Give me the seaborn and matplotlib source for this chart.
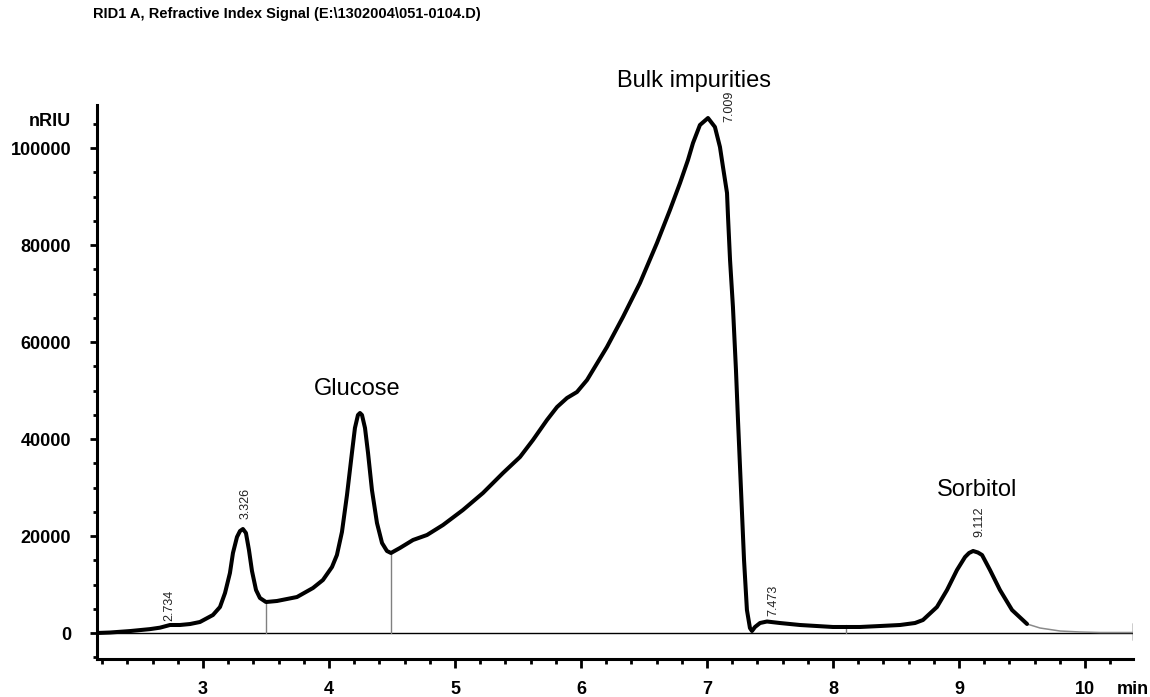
import numpy as np
import pandas as pd
import matplotlib
matplotlib.use("Agg")
import matplotlib.pyplot as plt
from matplotlib.ticker import MultipleLocator, FuncFormatter
import seaborn as sns

# ---------------- data ----------------
time_min = [2.159, 2.262, 2.421, 2.579, 2.659, 2.738, 2.817, 2.897, 2.976, 3.079,
            3.135, 3.175, 3.214, 3.238, 3.270, 3.294, 3.317, 3.341, 3.365, 3.389,
            3.421, 3.452, 3.500, 3.587, 3.746, 3.873, 3.952, 4.024, 4.063, 4.103,
            4.143, 4.183, 4.206, 4.230, 4.246, 4.262, 4.286, 4.310, 4.341, 4.381,
            4.421, 4.460, 4.492, 4.563, 4.667, 4.778, 4.905, 5.063, 5.222, 5.381,
            5.516, 5.619, 5.730, 5.810, 5.889, 5.968, 6.048, 6.206, 6.333, 6.468,
            6.603, 6.706, 6.786, 6.849, 6.889, 6.944, 7.008, 7.063,
            7.103, 7.127, 7.159, 7.167, 7.183, 7.206, 7.230, 7.246, 7.270, 7.294,
            7.317, 7.341, 7.357, 7.381, 7.421, 7.476, 7.579, 7.738, 8.000, 8.214,
            8.373, 8.532, 8.651, 8.714, 8.825, 8.905, 8.984, 9.048, 9.080, 9.112,
            9.150, 9.183, 9.246, 9.325, 9.421, 9.540, 9.643, 9.802, 9.960, 10.119,
            10.381]
signal_nriu = [0, 100, 400, 800, 1100, 1650, 1650, 1850, 2270, 3710,
               5360, 8250, 12370, 16500, 19800, 21030, 21440, 20620, 17110, 12780,
               8870, 7220, 6390, 6600, 7420, 9280, 10930, 13610, 16080, 20830,
               28460, 37320, 42270, 44950, 45360, 44950, 42270, 37120, 29490, 22680,
               18560, 16910, 16500, 17530, 19180, 20210, 22270, 25360, 28870, 32990,
               36290, 39800, 43920, 46600, 48460, 49690, 52170, 58970, 65160, 72170,
               80420, 87220, 92790, 97530, 101040, 104750, 106190, 104340,
               100210, 96090, 90730, 85780, 76910, 67220, 54230, 43920, 29490, 15050,
               4740, 1030, 410, 1240, 2060, 2370, 2060, 1650, 1240, 1240,
               1440, 1650, 2060, 2680, 5360, 8870, 12990, 15670, 16500, 16910,
               16600, 16080, 12990, 8870, 4740, 1860, 1030, 410, 210, 100,
               100]

# integration drop lines: (time, top signal)
drop_times = [3.500, 4.492, 8.100]
drop_tops = [6390, 16500, 1700]

peak_times = ["2.734", "3.326", "7.009", "7.473", "9.112"]
peak_label_x = [2.734, 3.339, 7.175, 7.524, 9.160]
peak_label_y = [2500, 23500, 105400, 3600, 19800]

compound_names = ["Glucose", "Bulk impurities", "Sorbitol"]
compound_x = [4.222, 6.897, 9.147]
compound_y = [49000, 112600, 28250]

x_limits = (2.159, 10.381)
y_limits = (-5361, 108874)
thick_until = 9.540

title = r"RID1 A, Refractive Index Signal (E:\1302004\051-0104.D)"

# ---------------- style ----------------
sns.set_theme(style="white")
plt.rcParams['font.family'] = ['Liberation Sans', 'DejaVu Sans']

fig = plt.figure(figsize=(11.5, 6.97), dpi=100)
ax = fig.add_axes([0.08435, 0.05452, 0.90087, 0.79483])

df = pd.DataFrame({"t": time_min, "s": signal_nriu})
thick = df[df["t"] <= thick_until]
thin = df[df["t"] >= thick_until]

# baseline at zero
ax.plot([x_limits[0], x_limits[1]], [0, 0], color="black", lw=1.0, zorder=1)
ax.plot([x_limits[1], x_limits[1]], [-1500, 2000], color="black", lw=1.0, zorder=1)

# drop lines
for t, top in zip(drop_times, drop_tops):
    ax.plot([t, t], [0, top], color="#808080", lw=1.0, zorder=1)

sns.lineplot(data=thin, x="t", y="s", ax=ax, color="#8a8a8a", linewidth=1.1,
             estimator=None, zorder=2)
sns.lineplot(data=thick, x="t", y="s", ax=ax, color="black", linewidth=2.9,
             estimator=None, zorder=3, solid_capstyle="round", solid_joinstyle="round")

ax.set_xlim(*x_limits)
ax.set_ylim(*y_limits)
ax.set_xlabel("")
ax.set_ylabel("")

for sp in ["top", "right"]:
    ax.spines[sp].set_visible(False)
for sp in ["left", "bottom"]:
    ax.spines[sp].set_visible(True)
    ax.spines[sp].set_color("black")
    ax.spines[sp].set_linewidth(2.2)

ax.xaxis.set_major_locator(MultipleLocator(1))
ax.xaxis.set_minor_locator(MultipleLocator(0.2))
ax.yaxis.set_major_locator(MultipleLocator(20000))
ax.yaxis.set_minor_locator(MultipleLocator(5000))

ax.tick_params(axis="x", which="major", direction="out", length=6.5, width=2.0,
               pad=9.5, labelsize=13, colors="black", bottom=True)
ax.tick_params(axis="x", which="minor", direction="out", length=3.6, width=2.0,
               bottom=True, colors="black")
ax.tick_params(axis="y", which="major", direction="out", length=5, width=2.0,
               pad=13.5, labelsize=13, colors="black", left=True)
ax.tick_params(axis="y", which="minor", direction="out", length=3, width=2.0,
               left=True, colors="black")
ax.yaxis.set_major_formatter(FuncFormatter(lambda v, p: f"{int(round(v))}"))
for lab in ax.get_xticklabels() + ax.get_yticklabels():
    lab.set_fontweight("bold")

# retention time labels
for txt, x, y in zip(peak_times, peak_label_x, peak_label_y):
    ax.text(x, y, txt, rotation=90, ha="center", va="bottom", fontsize=9,
            color="#222222", clip_on=False)

# compound names
for txt, x, y in zip(compound_names, compound_x, compound_y):
    ax.text(x, y, txt, ha="center", va="baseline", fontsize=17, color="black",
            clip_on=False)

fig.text(93 / 1150, 1 - 14 / 697, title, ha="left", va="center", fontsize=10.5,
         fontweight="bold", color="black")
fig.text(71 / 1150, 1 - 122 / 697, "nRIU", ha="right", va="center", fontsize=13,
         fontweight="bold", color="black")
fig.text(1133 / 1150, 1 - 690 / 697, "min", ha="center", va="center", fontsize=13,
         fontweight="bold", color="black")

fig.savefig("out.png", dpi=100, facecolor="white")
